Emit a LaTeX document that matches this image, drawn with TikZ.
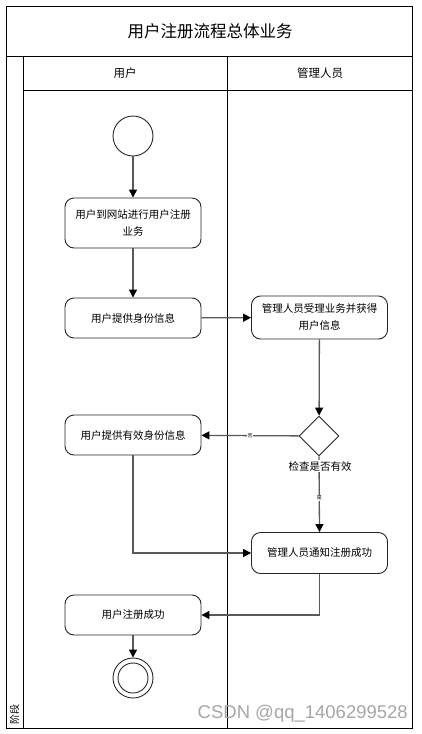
\documentclass[tikz,border=0pt]{standalone}
\usepackage{fontspec}
\setmainfont{Liberation Sans}
\newfontfamily\cjk{Noto Sans CJK SC}
\usetikzlibrary{arrows.meta,shapes.geometric}
\begin{document}
\begin{tikzpicture}[x=1pt,y=-1pt,
  frame/.style={draw=black,line width=1pt},
  actbox/.style={draw=black!85,line width=0.9pt,rounded corners=9pt,minimum width=136pt,align=center,font=\cjk\fontsize{10.5pt}{17pt}\selectfont,inner sep=2pt},
  flow/.style={draw=black!65,line width=1.3pt,-{Triangle[length=8pt,width=8pt,fill=black,color=black]}},
  elabel/.style={font=\cjk\fontsize{5pt}{5pt}\selectfont,fill=white,inner sep=0.5pt}
]
\useasboundingbox (0,0) rectangle (422,734);
% frame
\draw[frame] (6,6) rectangle (412,728);
\draw[frame] (6,56) -- (412,56);
\draw[frame] (23,56) -- (23,728);
\draw[frame] (23,90) -- (412,90);
\draw[frame] (227,56) -- (227,728);
\node (title) at (210,31) {\cjk\fontsize{16.5pt}{16.5pt}\selectfont 用户注册流程总体业务};
\node (lane1) at (125,73) {\cjk\fontsize{11.5pt}{11.5pt}\selectfont 用户};
\node (lane2) at (320,73) {\cjk\fontsize{11.5pt}{11.5pt}\selectfont 管理人员};
\node[rotate=90,anchor=west,inner sep=0pt] (stage) at (14.5,725) {\cjk\fontsize{10pt}{10pt}\selectfont 阶段};
% nodes
\node[circle,draw=black!85,line width=0.9pt,minimum size=40pt,inner sep=0pt] (start) at (133,136) {};
\node[actbox,minimum height=50pt] (b1) at (133,223) {用户到网站进行用户注册\\业务};
\node[actbox,minimum height=40pt] (b2) at (133,318) {用户提供身份信息};
\node[actbox,minimum height=43pt] (b3) at (319.5,317.5) {管理人员受理业务并获得\\用户信息};
\node[diamond,draw=black!85,line width=0.9pt,minimum width=40pt,minimum height=40pt,inner sep=0pt] (d) at (319,436) {};
\node[actbox,minimum height=40pt] (b4) at (133,435) {用户提供有效身份信息};
\node[actbox,minimum height=41pt] (b5) at (319.5,553) {管理人员通知注册成功};
\node[actbox,minimum height=40pt] (b6) at (133,615) {用户注册成功};
\node[circle,draw=black!85,line width=0.9pt,minimum size=40pt,inner sep=0pt] (end) at (133,678) {};
\node[circle,draw=black!85,line width=0.9pt,minimum size=30pt,inner sep=0pt] (endin) at (133,678) {};
% edges
\draw[flow] (start) -- (b1);
\draw[flow] (b1) -- (b2);
\draw[flow] (b2) -- (b3);
\draw[flow] (b3) -- (d);
\draw[flow] (d) -- node[elabel] {否} (b4);
\draw[flow] (d.south) -- node[elabel,pos=0.55] {是} (b5.north);
\node[font=\cjk\fontsize{10.5pt}{10.5pt}\selectfont,fill=white,inner sep=1pt] (dl) at (320,466) {检查是否有效};
\draw[flow] (b4.south) |- (b5.west);
\draw[flow] (b5.south) |- (b6.east);
\draw[flow] (b6) -- (end);
% watermark
\node[text=black!35,font=\fontsize{18.5pt}{18.5pt}\selectfont,anchor=east,inner sep=0pt] (wm) at (408,714) {CSDN @qq\_1406299528};
\end{tikzpicture}
\end{document}
